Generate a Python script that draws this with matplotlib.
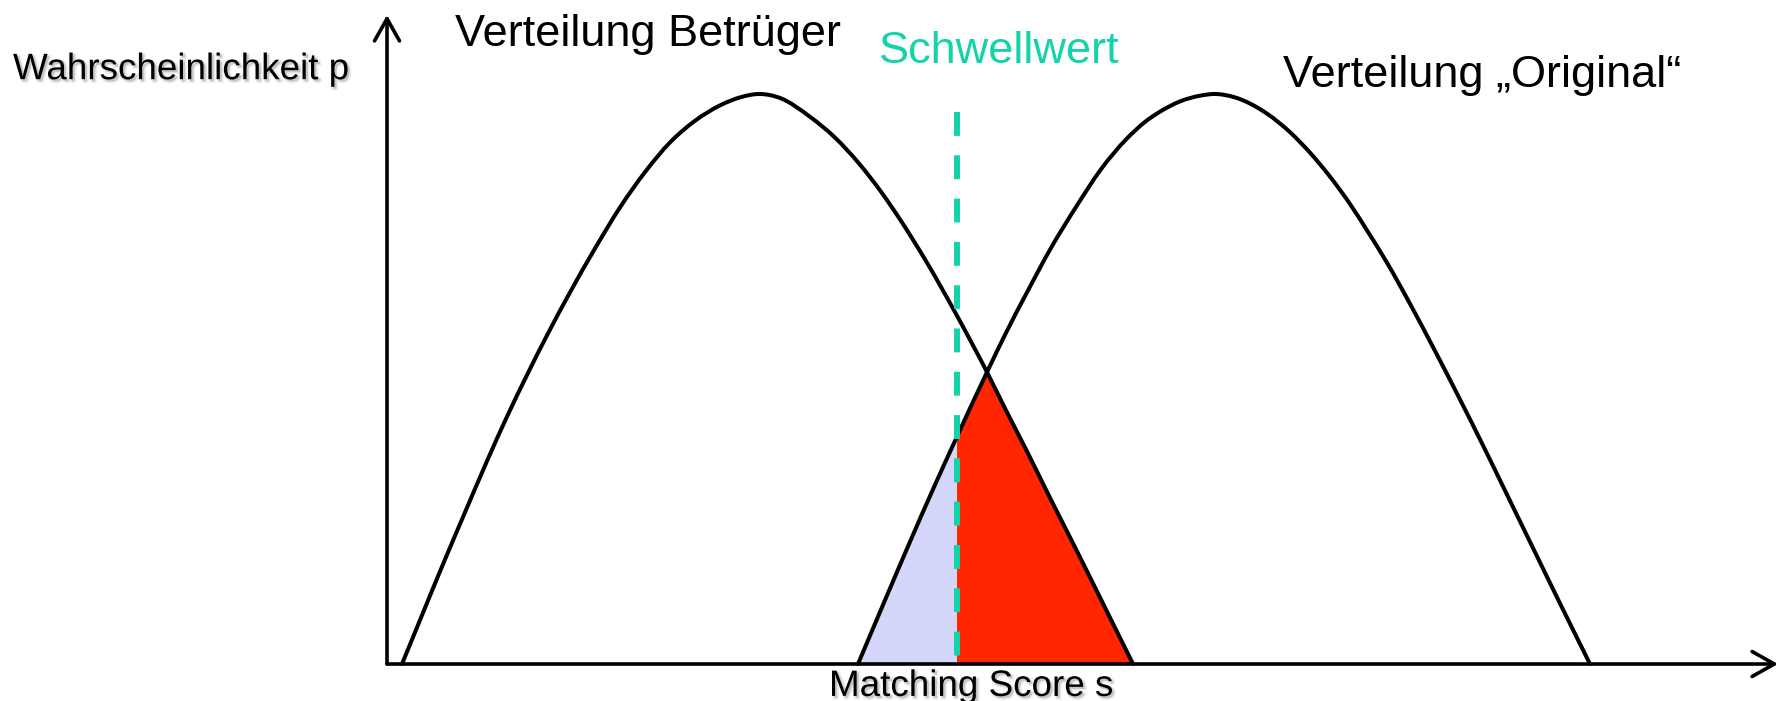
import matplotlib
matplotlib.use("Agg")
import matplotlib.pyplot as plt
import matplotlib.patheffects as pe
from matplotlib.path import Path
from matplotlib.patches import PathPatch
import numpy as np

plt.rcParams['font.family'] = ['Liberation Sans', 'DejaVu Sans']

# ---- data (score s, probability p) ----
score_betrueger = [1.5, 3.3, 5.67, 7.8, 10.0, 12.0, 14.0, 16.1, 18.3, 20.8, 23.3, 25.8,
                   28.3, 30.8, 33.3, 35.3, 37.2, 39.3, 42.3, 44.8, 47.3, 49.3, 51.3,
                   54.0, 57.0, 60.0, 61.9, 64.0, 66.4, 69.0, 71.8, 74.6]
p_betrueger = [0.0, 0.077, 0.178, 0.266, 0.356, 0.434, 0.507, 0.580, 0.652, 0.729, 0.801,
               0.863, 0.915, 0.953, 0.980, 0.994, 1.000, 0.993, 0.960, 0.9235, 0.876, 0.831,
               0.780, 0.704, 0.611, 0.512, 0.445, 0.373, 0.288, 0.198, 0.099, 0.0]

score_original = [47.1, 49.8, 52.3, 54.6, 57.0, 60.0, 61.9, 64.0, 66.4, 69.0, 71.4, 74.0,
                  75.8, 77.3, 79.3, 81.3, 82.8, 84.8, 88.0, 90.3, 92.3, 94.3, 96.3, 98.1,
                  100.0, 102.3, 104.6, 107.1, 109.6, 112.1, 114.6, 117.4, 120.3]
p_original = [0.0, 0.112, 0.2145, 0.3065, 0.399, 0.512, 0.581, 0.652, 0.730, 0.8045, 0.868,
              0.922, 0.951, 0.969, 0.987, 0.997, 1.000, 0.994, 0.9655, 0.933, 0.897, 0.855,
              0.807, 0.758, 0.704, 0.632, 0.556, 0.471, 0.3835, 0.2935, 0.2035, 0.1027, 0.0]

schwellwert = 57.0      # threshold score
schnittpunkt = 60.0     # score where both curves cross
schwellwert_top = 0.968

labels = {
    'y': 'Wahrscheinlichkeit p',
    'x': 'Matching Score s',
    'betrueger': 'Verteilung Betrüger',
    'original': 'Verteilung \u201eOriginal\u201c',
    'schwelle': 'Schwellwert',
}


def smooth_path(x, y):
    """Smooth curve through the given points (cubic Hermite segments in x)."""
    x = np.asarray(x, float); y = np.asarray(y, float)
    h = np.diff(x); sl = np.diff(y) / h
    d = np.empty_like(y)
    d[0] = sl[0]; d[-1] = sl[-1]
    d[1:-1] = (sl[1:] * h[:-1] + sl[:-1] * h[1:]) / (h[:-1] + h[1:])
    verts = [(x[0], y[0])]; codes = [Path.MOVETO]
    for i in range(len(x) - 1):
        verts += [(x[i] + h[i] / 3, y[i] + d[i] * h[i] / 3),
                  (x[i + 1] - h[i] / 3, y[i + 1] - d[i + 1] * h[i] / 3),
                  (x[i + 1], y[i + 1])]
        codes += [Path.CURVE4] * 3
    return Path(verts, codes)


# ---- figure ----
fig = plt.figure(figsize=(17.8, 7.01), dpi=100)
ax = fig.add_axes([0, 0, 1, 1])
ax.set_xlim(-38.7, 139.3)
ax.set_ylim(-0.0649, 1.1649)
ax.axis('off')

sb = np.array(score_betrueger); pb = np.array(p_betrueger)
so = np.array(score_original); po = np.array(p_original)

# blue area: "Original" left of threshold
m = so <= schwellwert
bx = np.concatenate([so[m], [schwellwert]])
by = np.concatenate([po[m], [0.0]])
ax.fill(bx, by, color='#D4D6FA', lw=0, zorder=1)

# red area: overlap right of threshold
m1 = (so >= schwellwert) & (so <= schnittpunkt)
m2 = sb > schnittpunkt
rx = np.concatenate([[schwellwert], so[m1], sb[m2]])
ry = np.concatenate([[0.0], po[m1], pb[m2]])
ax.fill(rx, ry, color='#FF2600', lw=0, zorder=1)

# curves
for xs, ys in ((sb, pb), (so, po)):
    ax.add_patch(PathPatch(smooth_path(xs, ys), fill=False, edgecolor='black', lw=2.9,
                           capstyle='round', joinstyle='round', zorder=2))

# threshold
ax.plot([schwellwert, schwellwert], [schwellwert_top, 0], color='#14D3A9', lw=4.3,
        dashes=(4.0, 3.25), dash_capstyle='butt', zorder=3)

# axes arrows
arrow = dict(arrowstyle='->,head_length=0.8,head_width=0.45', lw=2.6, color='black',
             shrinkA=0, shrinkB=0, mutation_scale=20, capstyle='round', joinstyle='round')
ax.annotate('', xy=(0, 1.1386), xytext=(0, 0), arrowprops=arrow, zorder=4)
ax.annotate('', xy=(139.1, 0), xytext=(0, 0), arrowprops=arrow, zorder=4)

shadow = [pe.Stroke(offset=(1.5, -1.5), linewidth=2.5, foreground='black', alpha=0.07),
          pe.SimplePatchShadow(offset=(1.5, -1.5), shadow_rgbFace='#777777', alpha=0.22),
          pe.Normal()]

ax.text(-37.4, 1.026, labels['y'], fontsize=26.5, ha='left', va='baseline',
        path_effects=shadow)
ax.text(44.2, -0.056, labels['x'], fontsize=26.5, ha='left', va='baseline',
        path_effects=shadow)
ax.text(6.8, 1.084, labels['betrueger'], fontsize=32.5, ha='left', va='baseline')
ax.text(49.2, 1.054, labels['schwelle'], fontsize=32.5, ha='left', va='baseline',
        color='#14D3A9')
ax.text(89.6, 1.012, labels['original'], fontsize=32.5, ha='left', va='baseline')

fig.savefig('out.png', dpi=100)
